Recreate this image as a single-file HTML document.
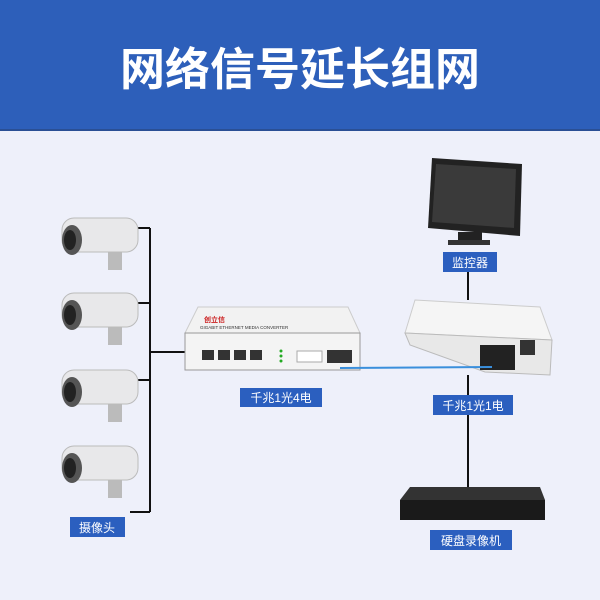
<!DOCTYPE html>
<html><head><meta charset="utf-8"><style>
body{margin:0;width:600px;height:600px;overflow:hidden;background:#eef0fa;font-family:"Liberation Sans","Noto Sans CJK SC",sans-serif}
</style></head><body>
<svg width="600" height="600" xmlns="http://www.w3.org/2000/svg" style="position:absolute;left:0;top:0">
<rect x="0" y="0" width="600" height="130" fill="#2d5fba"/>
<rect x="0" y="129" width="600" height="2" fill="#2a4f94"/>
<text x="300" y="85" text-anchor="middle" fill="#fff" font-size="45" font-weight="bold" font-family="Noto Sans CJK SC,sans-serif">网络信号延长组网</text>
<!-- camera wiring -->
<g stroke="#111" stroke-width="2" fill="none">
<line x1="150" y1="228" x2="150" y2="512"/>
<line x1="130" y1="228" x2="150" y2="228"/>
<line x1="135" y1="303" x2="150" y2="303"/>
<line x1="135" y1="380" x2="150" y2="380"/>
<line x1="130" y1="512" x2="150" y2="512"/>
<line x1="150" y1="352" x2="200" y2="352"/>
<line x1="468" y1="272" x2="468" y2="300"/>
<line x1="468" y1="375" x2="468" y2="488"/>
</g>
<!-- cameras -->
<g id="cam">
<rect x="62" y="218" width="76" height="34" rx="12" fill="#e8e8ea" stroke="#bbb"/>
<ellipse cx="72" cy="240" rx="10" ry="15" fill="#555"/>
<ellipse cx="70" cy="240" rx="6" ry="10" fill="#222"/>
<rect x="108" y="252" width="14" height="18" fill="#bbb"/>
</g>
<use href="#cam" y="75"/>
<use href="#cam" y="152"/>
<use href="#cam" y="228"/>
<rect x="70" y="517" width="55" height="20" fill="#2b5fbf"/>
<text x="97" y="532" text-anchor="middle" fill="#fff" font-size="12">摄像头</text>
<!-- converter 1 -->
<polygon points="198,307 348,307 360,333 185,333" fill="#f2f2f2" stroke="#ccc"/>
<rect x="185" y="333" width="175" height="37" fill="#f4f4f4" stroke="#999"/>
<text x="204" y="322" font-size="7" fill="#c22" font-weight="bold">创立信</text>
<text x="200" y="329" font-size="4.5" fill="#333">GIGABIT ETHERNET MEDIA CONVERTER</text>
<g fill="#333"><rect x="202" y="350" width="12" height="10"/><rect x="218" y="350" width="12" height="10"/><rect x="234" y="350" width="12" height="10"/><rect x="250" y="350" width="12" height="10"/></g>
<g fill="#2a2"><circle cx="281" cy="351" r="1.5"/><circle cx="281" cy="356" r="1.5"/><circle cx="281" cy="361" r="1.5"/></g>
<rect x="297" y="351" width="25" height="11" fill="#fff" stroke="#aaa"/>
<rect x="327" y="350" width="25" height="13" fill="#333"/>
<rect x="240" y="388" width="82" height="19" fill="#2b5fbf"/>
<text x="281" y="402" text-anchor="middle" fill="#fff" font-size="12">千兆1光4电</text>
<!-- converter 2 -->
<polygon points="415,300 540,307 552,340 405,333" fill="#f5f5f5" stroke="#ccc"/>
<polygon points="405,333 552,340 550,375 485,372 410,345" fill="#e8e8e8" stroke="#bbb"/>
<rect x="480" y="345" width="35" height="25" fill="#222"/>
<rect x="520" y="340" width="15" height="15" fill="#333"/>
<line x1="340" y1="368" x2="492" y2="367" stroke="#3a8fdc" stroke-width="2"/>
<rect x="433" y="395" width="80" height="20" fill="#2b5fbf"/>
<text x="473" y="410" text-anchor="middle" fill="#fff" font-size="12">千兆1光1电</text>
<!-- monitor -->
<polygon points="432,158 522,164 520,236 428,228" fill="#222"/>
<polygon points="436,164 516,169 514,228 432,222" fill="#3a3a3a"/>
<rect x="458" y="232" width="24" height="8" fill="#222"/>
<rect x="448" y="240" width="42" height="5" fill="#333"/>
<rect x="443" y="252" width="54" height="20" fill="#2b5fbf"/>
<text x="470" y="267" text-anchor="middle" fill="#fff" font-size="12">监控器</text>
<!-- DVR -->
<polygon points="410,487 540,487 545,500 400,500" fill="#333"/>
<rect x="400" y="500" width="145" height="20" fill="#1a1a1a"/>
<rect x="430" y="530" width="82" height="20" fill="#2b5fbf"/>
<text x="471" y="545" text-anchor="middle" fill="#fff" font-size="12">硬盘录像机</text>
</svg>
</body></html>
